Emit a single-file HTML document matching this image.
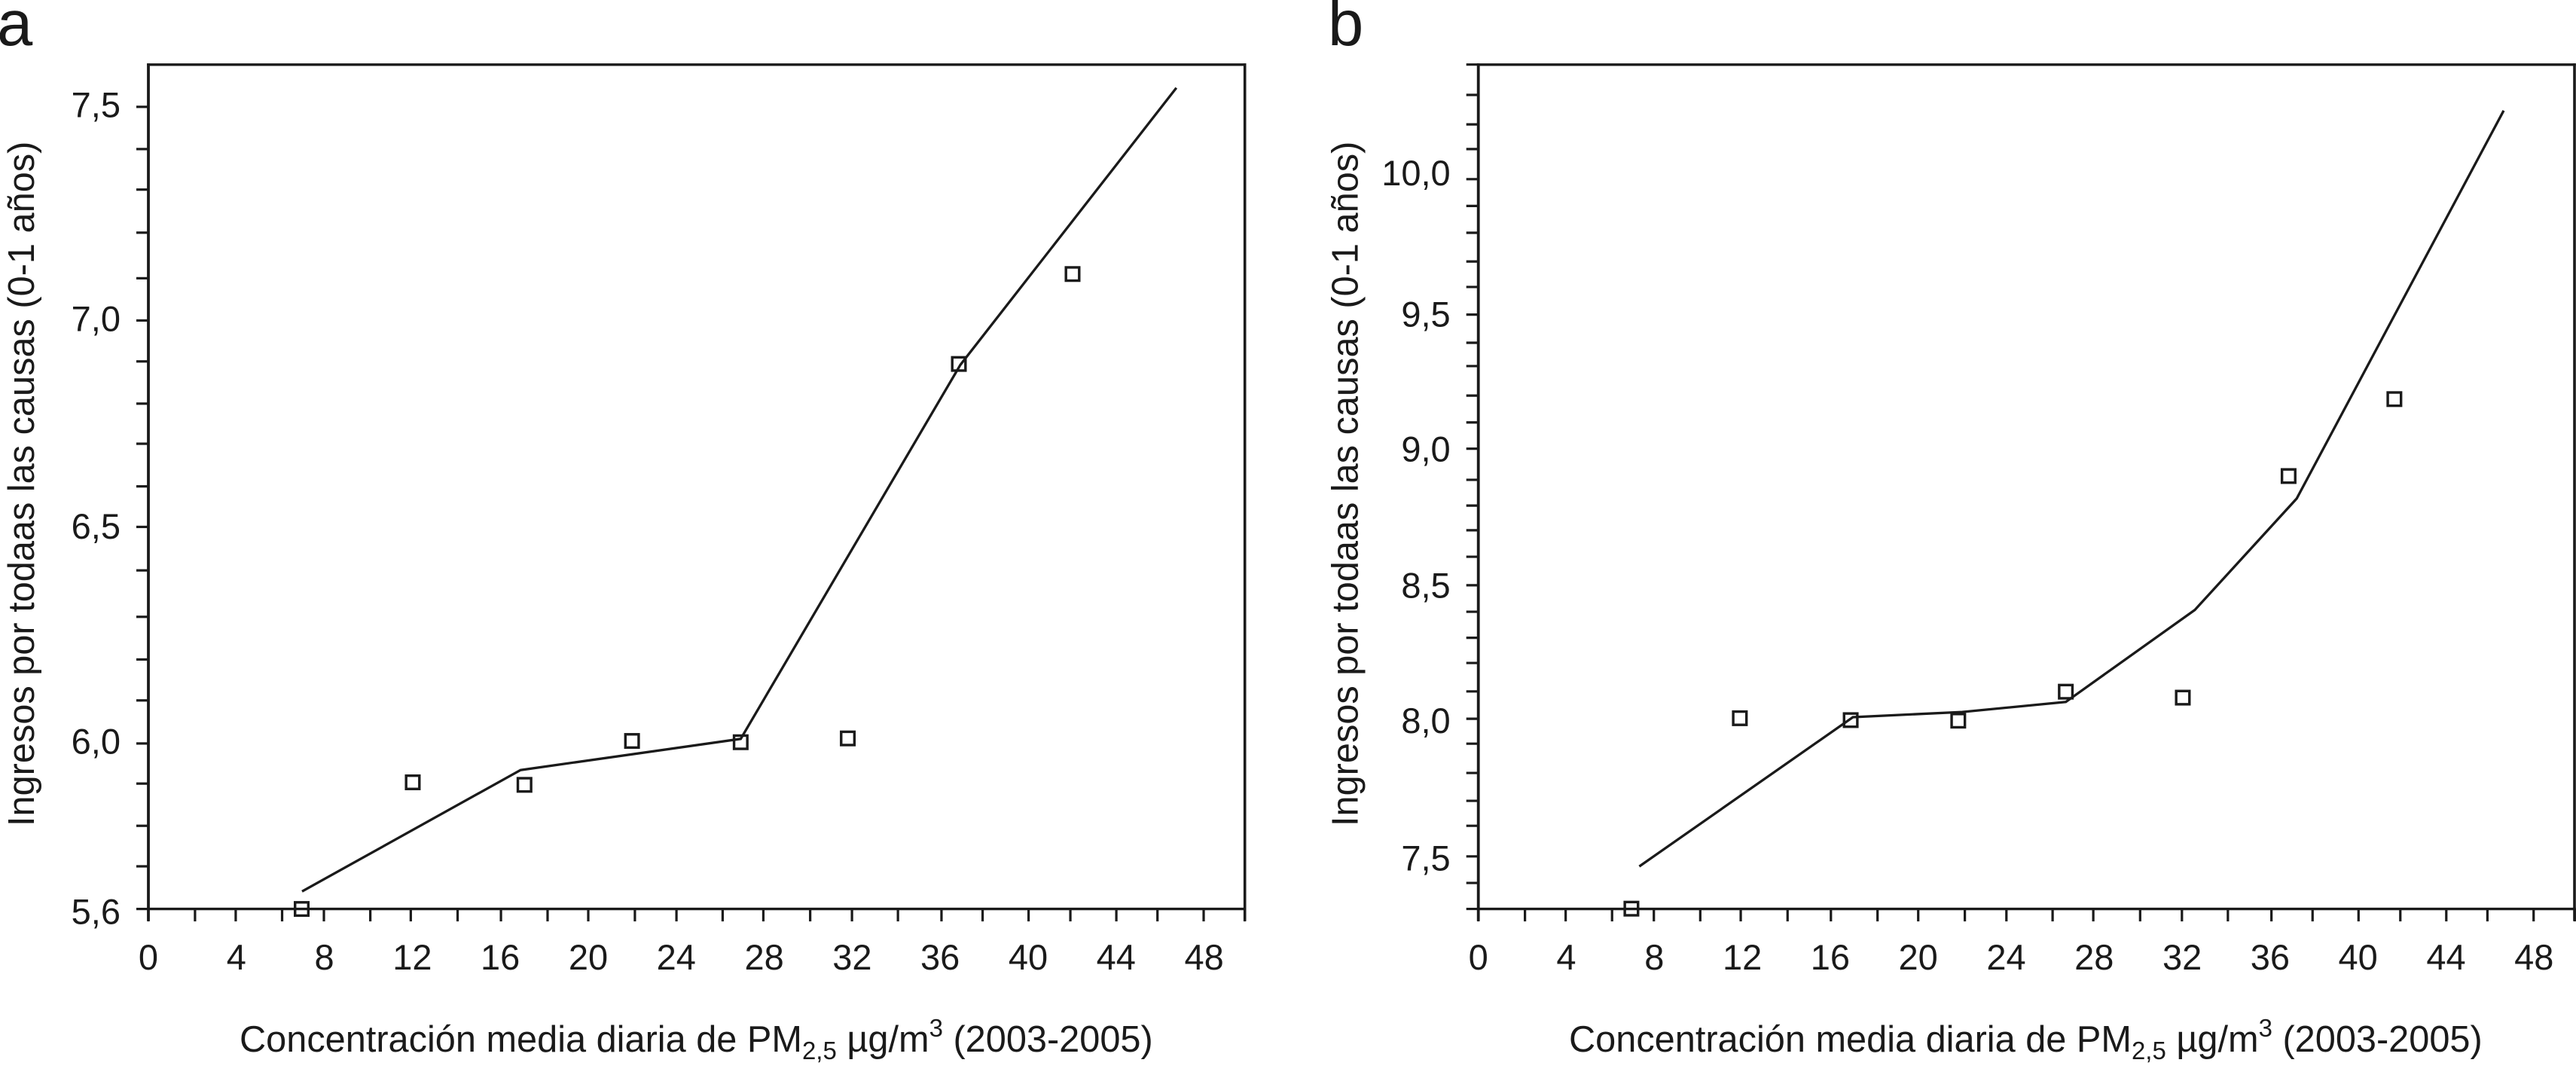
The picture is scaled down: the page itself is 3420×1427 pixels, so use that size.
<!DOCTYPE html>
<html lang="es">
<head>
<meta charset="utf-8">
<title>Ingresos por todas las causas frente a PM2,5</title>
<style>
html,body{margin:0;padding:0;background:#fff;}
body{width:3420px;height:1427px;overflow:hidden;}
svg{display:block;}
text{font-family:"Liberation Sans",Arial,sans-serif;fill:#1a1a1a;}
.tick-label{font-size:47px;}
.axis-title{font-size:48.7px;}
.panel-letter{font-size:85px;}
</style>
</head>
<body>
<svg id="figure" xmlns="http://www.w3.org/2000/svg" width="3420" height="1427" viewBox="0 0 3420 1427">
  <rect x="0" y="0" width="3420" height="1427" fill="#fff"/>

  <g id="panel-a">
    <text class="panel-letter" x="-4" y="60">a</text>
    <text class="axis-title" transform="translate(45,1097) rotate(-90)">Ingresos por todaas las causas (0-1 años)</text>
    <text class="axis-title" x="318" y="1396">Concentración media diaria de PM<tspan font-size="33" dy="10">2,5</tspan><tspan dy="-10"> µg/m</tspan><tspan font-size="33" dy="-20">3</tspan><tspan dy="20"> (2003-2005)</tspan></text>
  </g>

  <g id="panel-b">
    <text class="panel-letter" x="1763" y="60">b</text>
    <text class="axis-title" transform="translate(1802.7,1097) rotate(-90)">Ingresos por todaas las causas (0-1 años)</text>
    <text class="axis-title" x="2083" y="1396">Concentración media diaria de PM<tspan font-size="33" dy="10">2,5</tspan><tspan dy="-10"> µg/m</tspan><tspan font-size="33" dy="-20">3</tspan><tspan dy="20"> (2003-2005)</tspan></text>
  </g>
</svg>

<script>
// Shared x axis (tick values)
var xTickValues = [0,2.12,3.97,6.08,7.98,10.09,11.93,14.06,16.03,18.15,20,22.12,24.01,26.11,27.96,30.09,31.99,34.08,36.06,37.93,40.02,41.92,44.01,45.88,47.98,49.85];
var xLabelValues = [0,4,8,12,16,20,24,28,32,36,40,44,48];
var xLabelTexts = ["0","4","8","12","16","20","24","28","32","36","40","44","48"];

// Panel a
var yTicksA = [7.5,7.4,7.304,7.202,7.094,6.994,6.897,6.797,6.702,6.601,6.505,6.402,6.292,6.191,6.094,5.992,5.897,5.797,5.701,5.6];
var yLabelValuesA = [7.505,6.998,6.507,5.997,5.594];
var yLabelTextsA = ["7,5","7,0","6,5","6,0","5,6"];
var pointXA = [6.97,12.02,17.1,21.99,26.93,31.8,36.85,42.02];
var pointYA = [5.6,5.9,5.894,5.998,5.995,6.004,6.891,7.104];
var lineXA = [6.986,16.92,26.93,36.92,46.74];
var lineYA = [5.6416,5.929,6.003,6.889,7.545];

// Panel b
var yTicksB = [10.423,10.311,10.202,10.111,10,9.901,9.802,9.696,9.602,9.5,9.396,9.31,9.201,9.102,9.005,8.89,8.795,8.704,8.606,8.501,8.403,8.307,8.214,8.109,8.008,7.916,7.808,7.705,7.613,7.5,7.402,7.306];
var yLabelValuesB = [10.023,9.502,9.004,8.5,8.002,7.494];
var yLabelTextsB = ["10,0","9,5","9,0","8,5","8,0","7,5"];
var pointXB = [6.96,11.89,16.93,21.82,26.71,32.03,36.84,41.65];
var pointYB = [7.307,8.01,8.003,8.001,8.108,8.086,8.904,9.188];
var lineXB = [7.32,17.03,22,26.71,32.58,37.21,46.62];
var lineYB = [7.463,8.014,8.033,8.07,8.41,8.821,10.253];

var SVG_NS = "http://www.w3.org/2000/svg";
var INK = "#1a1a1a";

function xScaleA(v){ return 197 + v * 29.2; }
function yScaleA(v){ return 1206.6 - (v - 5.6) * 560.4; }
function xScaleB(v){ return 1962.7 + v * 29.2; }
function yScaleB(v){ return 237.8 + (10 - v) * 359.6; }

function drawLine(parent, x1, y1, x2, y2, width, name){
  var el = document.createElementNS(SVG_NS, "line");
  el.setAttribute("x1", x1);
  el.setAttribute("y1", y1);
  el.setAttribute("x2", x2);
  el.setAttribute("y2", y2);
  el.setAttribute("stroke", INK);
  el.setAttribute("stroke-width", width);
  
  
  parent.appendChild(el);
  return el;
}

function drawPanel(id, prefix, xScale, yScale, frameLeft, frameRight, frameTop, frameBottom, yTicks, yLabelValues, yLabelTexts, pointX, pointY, lineX, lineY){
  var g = document.getElementById(id);
  var tickLeft = frameLeft - 16;
  var i, el;

  // frame
  drawLine(g, frameLeft, frameTop - 1.6, frameLeft, frameBottom + 16, 3.8, prefix + "-y-axis-line");
  drawLine(g, frameLeft - 1.8, frameTop, frameRight + 1.8, frameTop, 3.4, prefix + "-frame-top");
  drawLine(g, frameRight, frameTop - 1.6, frameRight, frameBottom + 16, 3.6, prefix + "-frame-right");
  drawLine(g, frameLeft - 1.8, frameBottom, frameRight + 1.8, frameBottom, 3.4, prefix + "-x-axis-line");

  // x ticks
  for (i = 0; i < xTickValues.length; i++) {
    drawLine(g, xScale(xTickValues[i]), frameBottom, xScale(xTickValues[i]), frameBottom + 16.5, 3.2, prefix + "-x-tick");
  }
  // y ticks
  for (i = 0; i < yTicks.length; i++) {
    drawLine(g, tickLeft, yScale(yTicks[i]), frameLeft, yScale(yTicks[i]), 3.2, prefix + "-y-tick");
  }
  // x labels
  for (i = 0; i < xLabelValues.length; i++) {
    el = document.createElementNS(SVG_NS, "text");
    el.setAttribute("class", "tick-label");
    el.setAttribute("x", xScale(xLabelValues[i]));
    el.setAttribute("y", 1287);
    el.setAttribute("text-anchor", "middle");
    
    
    el.textContent = xLabelTexts[i];
    g.appendChild(el);
  }
  // y labels
  for (i = 0; i < yLabelValues.length; i++) {
    el = document.createElementNS(SVG_NS, "text");
    el.setAttribute("class", "tick-label");
    el.setAttribute("x", frameLeft - 37);
    el.setAttribute("y", yScale(yLabelValues[i]) + 16.5);
    el.setAttribute("text-anchor", "end");
    
    
    el.textContent = yLabelTexts[i];
    g.appendChild(el);
  }
  // fitted line
  var pts = [];
  for (i = 0; i < lineX.length; i++) {
    pts.push(xScale(lineX[i]).toFixed(1) + "," + yScale(lineY[i]).toFixed(1));
  }
  el = document.createElementNS(SVG_NS, "polyline");
  el.setAttribute("points", pts.join(" "));
  el.setAttribute("fill", "none");
  el.setAttribute("stroke", INK);
  el.setAttribute("stroke-width", 3.3);
  el.setAttribute("stroke-linejoin", "miter");
  
  
  g.appendChild(el);

  // observed points
  for (i = 0; i < pointX.length; i++) {
    el = document.createElementNS(SVG_NS, "rect");
    el.setAttribute("x", xScale(pointX[i]) - 8.8);
    el.setAttribute("y", yScale(pointY[i]) - 8.8);
    el.setAttribute("width", 17.6);
    el.setAttribute("height", 17.6);
    el.setAttribute("fill", "none");
    el.setAttribute("stroke", INK);
    el.setAttribute("stroke-width", 3.4);
    
    
    g.appendChild(el);
  }
}

drawPanel("panel-a", "panel-a", xScaleA, yScaleA, 197, 1652.7, 85.8, 1206.6, yTicksA, yLabelValuesA, yLabelTextsA, pointXA, pointYA, lineXA, lineYA);
drawPanel("panel-b", "panel-b", xScaleB, yScaleB, 1962.7, 3418, 85.8, 1206.6, yTicksB, yLabelValuesB, yLabelTextsB, pointXB, pointYB, lineXB, lineYB);
</script>
</body>
</html>
